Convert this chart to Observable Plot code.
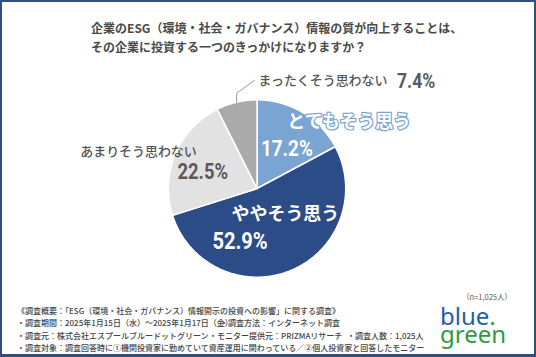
<!DOCTYPE html>
<html><head><meta charset="utf-8">
<script src="https://cdn.jsdelivr.net/npm/d3@7"></script>
<script src="https://cdn.jsdelivr.net/npm/@observablehq/plot@0.6"></script>
<style>
body{margin:0;background:#fff}
#frame{position:relative;width:536px;height:357px;box-sizing:border-box;border:2px solid #2f4e85;border-bottom-width:3px;background:#fff;overflow:hidden;font-family:"Noto Sans CJK JP",sans-serif}
#title{position:absolute;left:89px;top:16px;font-size:12px;line-height:19px;font-weight:700;color:#4a4a4a;white-space:nowrap}
#chart{position:absolute;left:-2px;top:58px}
#foot{position:absolute;left:15px;top:303px;font-size:8px;line-height:12.4px;color:#444;font-weight:500;white-space:nowrap}
#foot div{position:relative;height:12.4px}
#foot span{position:absolute;top:0}
#n{position:absolute;right:22px;top:290px;font-size:7.5px;line-height:9px;color:#555;white-space:nowrap}
#logo{position:absolute;left:438px;top:305px;font-family:"Noto Sans",sans-serif;font-size:24px;line-height:18px}
#logo div{height:18px}
#logo .b{color:#1f5db0}
#logo .g{color:#2e9c3e}
</style></head>
<body>
<div id="frame">
  <div id="title"></div>
  <div id="chart"></div>
  <div id="n"></div>
  <div id="foot"></div>
  <div id="logo"><div><span class="b">blue</span><span class="g">.</span></div><div class="g">green</div></div>
</div>
<script>
const titleLines = ["企業のESG（環境・社会・ガバナンス）情報の質が向上することは、", "その企業に投資する一つのきっかけになりますか？"];
const categories = ["とてもそう思う", "ややそう思う", "あまりそう思わない", "まったくそう思わない"];
const values = [17.2, 52.9, 22.5, 7.4];
const colors = ["#7aa5d2", "#2c4c87", "#e2e2e2", "#aaaaaa"];
const sampleSize = "（n=1,025人）";
const footLines = [
  ["《調査概要：「ESG（環境・社会・ガバナンス）情報開示の投資への影響」に関する調査》"],
  ["・調査期間：2025年1月15日（水）～2025年1月17日（金）", "・調査方法：インターネット調査"],
  ["・調査元：株式会社エスプールブルードットグリーン", "・モニター提供元：PRIZMAリサーチ", "・調査人数：1,025人"],
  ["・調査対象：調査回答時に①機関投資家に勤めていて資産運用に関わっている／②個人投資家と回答したモニター"]
];
const footOffsets = [[0], [0, 203], [0, 192, 330], [0]];

document.getElementById("title").innerHTML = titleLines.join("<br>");
document.getElementById("n").textContent = sampleSize;
document.getElementById("foot").innerHTML = footLines.map((l, i) =>
  "<div>" + l.map((t, j) => `<span style="left:${footOffsets[i][j]}px">${t}</span>`).join("") + "</div>").join("");

// layout
const W = 536, H = 225, R = 89, CX = 257.5, CY = 128.5;
const pie = d3.pie().sort(null).value(d => d.value)(categories.map((c, i) => ({cat: c, value: values[i]})));
const slices = pie.map(p => {
  const mid = (p.startAngle + p.endAngle) / 2;
  return {cat: p.data.cat, value: p.data.value, a0: p.startAngle, a1: p.endAngle, mid,
    cx: 0.6 * Math.sin(mid), cy: 0.6 * Math.cos(mid), ex: Math.sin(mid), ey: Math.cos(mid)};
});
const pts = [];
for (const s of slices) {
  pts.push({cat: s.cat, x: 0, y: 0});
  const n = Math.max(2, Math.ceil((s.a1 - s.a0) / 0.01));
  for (let k = 0; k <= n; k++) {
    const a = s.a0 + (s.a1 - s.a0) * k / n;
    pts.push({cat: s.cat, x: Math.sin(a), y: Math.cos(a)});
  }
  pts.push({cat: s.cat, x: 0, y: 0});
}
const last = slices[3];
const px = 1 / R;
const leader = [
  {x: last.ex, y: last.ey},
  {x: last.ex, y: last.ey + 9 * px},
  {x: last.ex + 18 * px, y: last.ey + 22 * px}
];
const pctFont = 'Roboto,sans-serif';
const jp = '"Noto Sans CJK JP",sans-serif';
const fmt = d => d.value.toFixed(1) + "%";
const only = c => d => d.cat === c;

const plot = Plot.plot({
  width: W, height: H, margin: 0,
  x: {domain: [-CX / R, (W - CX) / R], axis: null},
  y: {domain: [-(H - CY) / R, CY / R], axis: null},
  color: {domain: categories, range: colors},
  marks: [
    Plot.line(pts, {x: "x", y: "y", z: "cat", fill: "cat", stroke: "white", strokeWidth: 1.5, curve: "linear"}),
    Plot.line(leader, {x: "x", y: "y", stroke: "#999", strokeWidth: 1}),
    // とてもそう思う
    Plot.text(slices, {filter: only(categories[0]), x: "cx", y: "cy", text: "cat", dx: 65, dy: -21, fontSize: 18, fontWeight: 700, fontFamily: jp, fill: "white", stroke: "#7aa5d2", strokeWidth: 2.5, paintOrder: "stroke"}),
    Plot.text(slices, {filter: only(categories[0]), x: "cx", y: "cy", text: fmt, dx: 2.5, dy: 6, fontSize: 22.5, fontWeight: 700, fontFamily: pctFont, fill: "white"}),
    // ややそう思う
    Plot.text(slices, {filter: only(categories[1]), x: "cx", y: "cy", text: "cat", dx: 7.7, dy: -23.7, fontSize: 18, fontWeight: 700, fontFamily: jp, fill: "white"}),
    Plot.text(slices, {filter: only(categories[1]), x: "cx", y: "cy", text: fmt, dx: -37.8, dy: 3.8, fontSize: 24, fontWeight: 700, fontFamily: pctFont, fill: "white"}),
    // あまりそう思わない
    Plot.text(slices, {filter: only(categories[2]), x: "cx", y: "cy", text: "cat", dx: -69.8, dy: -16, fontSize: 13, fontWeight: 500, fontFamily: jp, fill: "#555"}),
    Plot.text(slices, {filter: only(categories[2]), x: "cx", y: "cy", text: fmt, dx: -5.3, dy: 3.8, fontSize: 22, fontWeight: 700, fontFamily: pctFont, fill: "#5a5a5a"}),
    // まったくそう思わない
    Plot.text(slices, {filter: only(categories[3]), x: "ex", y: "ey", text: "cat", dx: 22, dy: -21, textAnchor: "start", fontSize: 13, fontWeight: 500, fontFamily: jp, fill: "#555"}),
    Plot.text(slices, {filter: only(categories[3]), x: "ex", y: "ey", text: fmt, dx: 161, dy: -21, textAnchor: "start", fontSize: 21, fontWeight: 700, fontFamily: pctFont, fill: "#5a5a5a"})
  ]
});
document.getElementById("chart").appendChild(plot);
// condense the percentage figures horizontally (the reference uses a condensed face)
plot.querySelectorAll("text").forEach(t => {
  if (/%$/.test(t.textContent)) {
    const w = t.getComputedTextLength();
    t.setAttribute("textLength", (w * 0.84).toFixed(1));
    t.setAttribute("lengthAdjust", "spacingAndGlyphs");
  }
});
</script>
</body></html>
